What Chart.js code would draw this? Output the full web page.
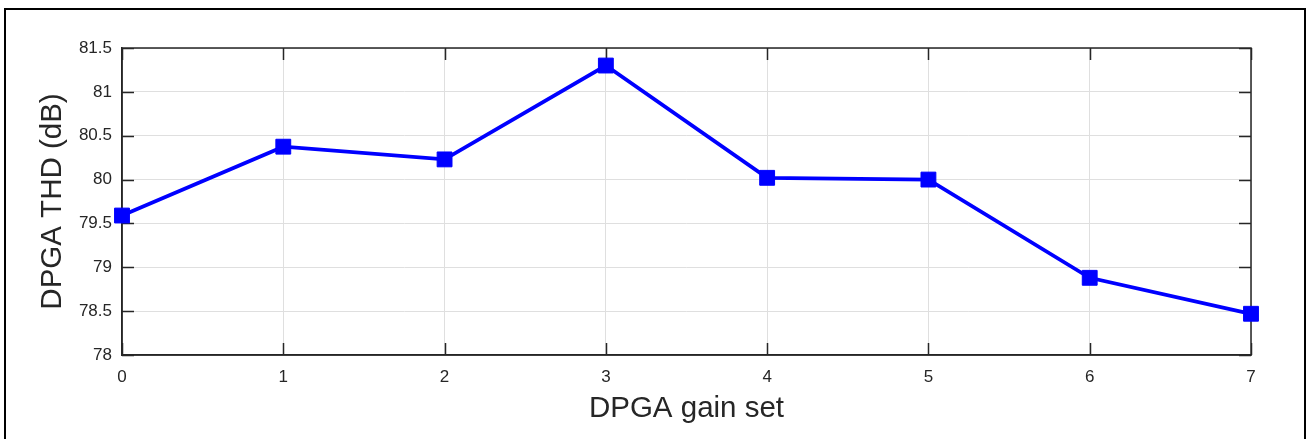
<!DOCTYPE html>
<html>
<head>
<meta charset="utf-8">
<script src="https://cdn.jsdelivr.net/npm/chart.js@4"></script>
<style>
  body { margin: 0; background: #fff; overflow: hidden; }
  #frame { position: absolute; left: 4px; top: 8px; width: 1298px; height: 500px; border: 2px solid #000; pointer-events: none; }
  canvas { position: absolute; left: 0; top: 0; }
</style>
</head>
<body>
<canvas id="chart" width="1309" height="439"></canvas>
<div id="frame"></div>
<script>
const gainSet = [0, 1, 2, 3, 4, 5, 6, 7];
const thd = [79.59, 80.375, 80.23, 81.30, 80.02, 80.0, 78.88, 78.47];
const xTicks = [0, 1, 2, 3, 4, 5, 6, 7];
const yTicks = [78, 78.5, 79, 79.5, 80, 80.5, 81, 81.5];

const axisColor = "#262626";
const fontFam = "'Liberation Sans', Arial, sans-serif";

// MATLAB style: ticks pointing inward on all four sides, plus box
const innerTicks = {
  id: "innerTicks",
  beforeDatasetsDraw(chart) {
    const { ctx, chartArea: a } = chart;
    const xs = chart.scales.x, ys = chart.scales.y;
    const len = 12;
    ctx.save();
    ctx.strokeStyle = axisColor;
    ctx.lineWidth = 1.5;
    ctx.beginPath();
    xTicks.forEach(v => {
      const px = Math.round(xs.getPixelForValue(v)) + 0.5;
      ctx.moveTo(px, a.bottom); ctx.lineTo(px, a.bottom - len);
      ctx.moveTo(px, a.top); ctx.lineTo(px, a.top + len);
    });
    yTicks.forEach(v => {
      const py = Math.round(ys.getPixelForValue(v)) + 0.5;
      ctx.moveTo(a.left, py); ctx.lineTo(a.left + len, py);
      ctx.moveTo(a.right, py); ctx.lineTo(a.right - len, py);
    });
    ctx.rect(a.left, a.top, a.right - a.left, a.bottom - a.top);
    ctx.stroke();
    ctx.restore();
  }
};

new Chart(document.getElementById("chart"), {
  type: "line",
  data: {
    datasets: [{
      data: gainSet.map((g, i) => ({ x: g, y: thd[i] })),
      borderColor: "#0000ff",
      backgroundColor: "#0000ff",
      borderWidth: 3.8,
      pointStyle: "rect",
      pointRadius: 10.5,
      pointBorderWidth: 1,
      tension: 0,
      clip: false
    }]
  },
  options: {
    responsive: false,
    animation: false,
    devicePixelRatio: 1,
    layout: { padding: { top: 48, right: 58, left: 0, bottom: 0 } },
    plugins: { legend: { display: false }, tooltip: { enabled: false } },
    scales: {
      x: {
        type: "linear",
        min: 0,
        max: 7,
        afterBuildTicks: s => { s.ticks = xTicks.map(v => ({ value: v })); },
        afterFit: s => { s.height = 84; },
        grid: { color: "#dfdfdf", lineWidth: 1, drawTicks: false },
        border: { display: true, color: axisColor, width: 1.5 },
        ticks: { padding: 12, color: axisColor, font: { family: fontFam, size: 17 }, callback: v => String(v) },
        title: {
          display: true,
          text: "DPGA gain set",
          color: axisColor,
          font: { family: fontFam, size: 29.5 },
          padding: { top: 0, bottom: 12 }
        }
      },
      y: {
        type: "linear",
        min: 78,
        max: 81.5,
        afterBuildTicks: s => { s.ticks = yTicks.map(v => ({ value: v })); },
        afterFit: s => { s.width = 122; },
        grid: { color: "#dfdfdf", lineWidth: 1, drawTicks: false },
        border: { display: true, color: axisColor, width: 1.5 },
        ticks: { padding: 10, color: axisColor, font: { family: fontFam, size: 17 }, callback: v => String(v) },
        title: {
          display: true,
          text: "DPGA THD (dB)",
          color: axisColor,
          font: { family: fontFam, size: 29.5 },
          padding: { top: 35, bottom: 0 }
        }
      }
    }
  },
  plugins: [innerTicks]
});
</script>
</body>
</html>
